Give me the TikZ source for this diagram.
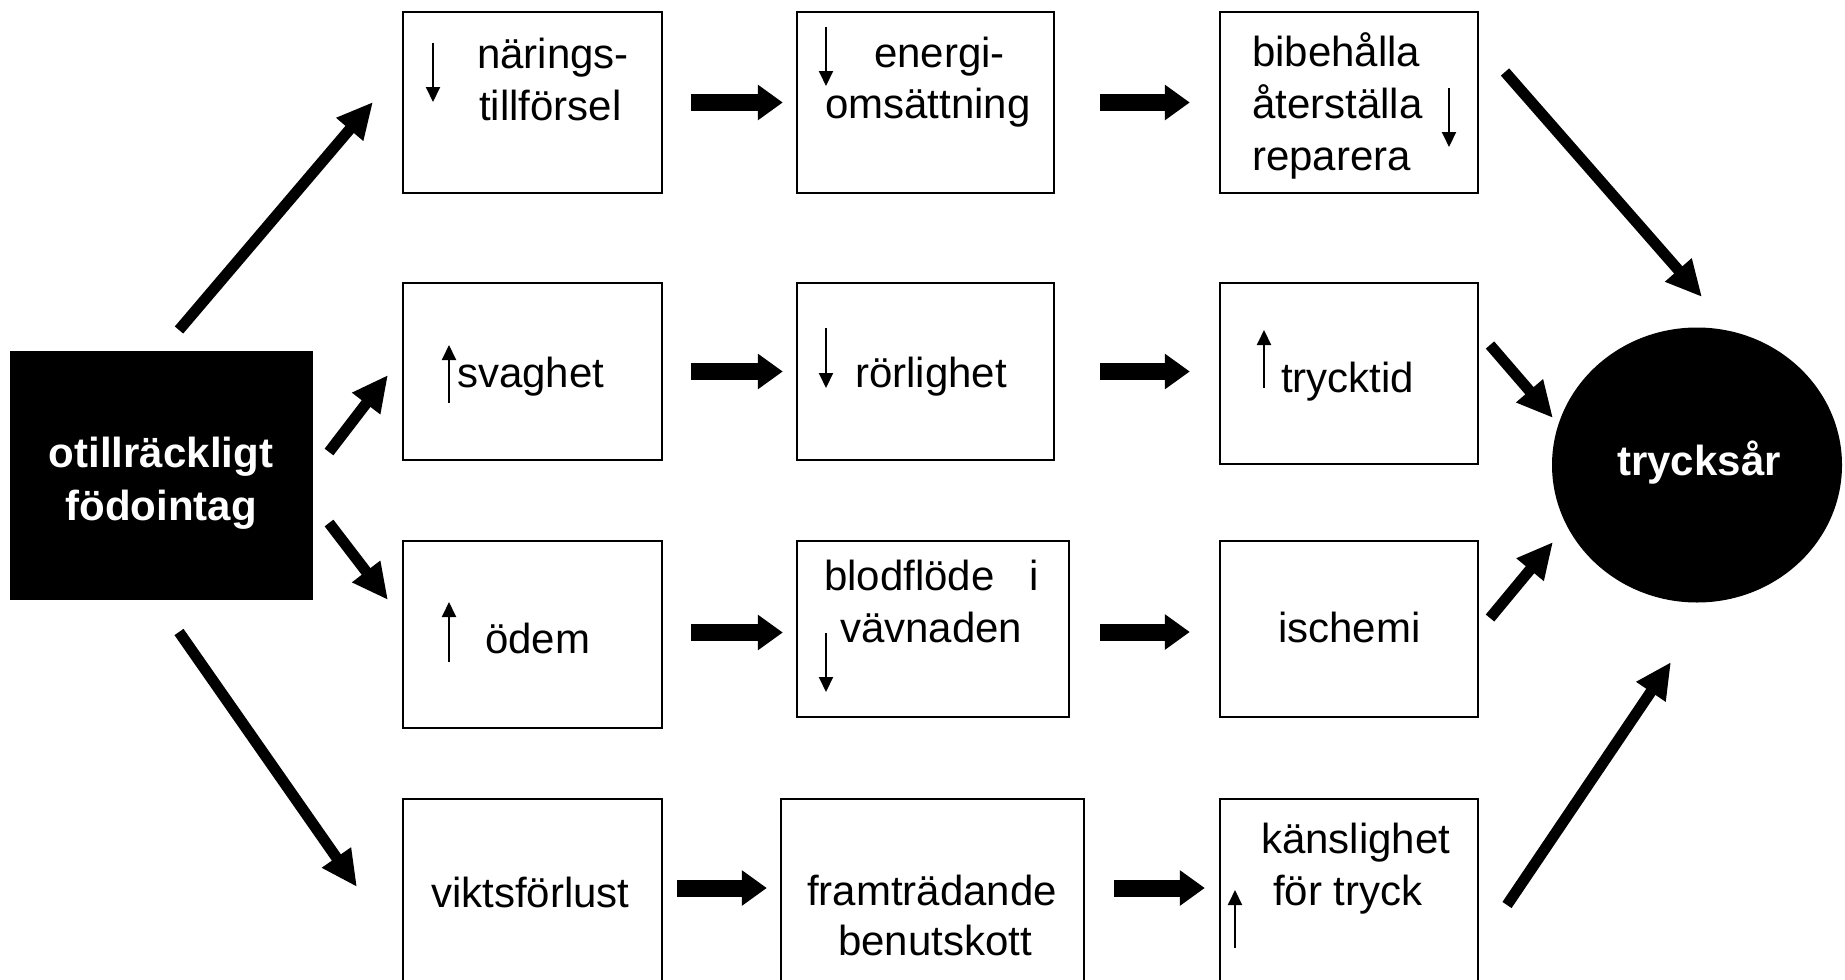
\documentclass[tikz,border=0pt]{standalone}
\usepackage{fontspec}
\setmainfont{Liberation Sans}
\usetikzlibrary{arrows.meta,shapes.geometric,fit}
\begin{document}
\begin{tikzpicture}[x=1pt,y=-1pt,
  box/.style={draw=black, line width=2.4pt, inner sep=0pt},
  txt/.style={inner sep=0pt, anchor=base west, font=\fontsize{42}{52}\selectfont},
  wtxt/.style={inner sep=0pt, anchor=base, text=white, font=\fontsize{42}{52}\selectfont\bfseries},
  fat/.style={line width=17pt, -{Triangle[length=25pt,width=34pt]}},
  diag/.style={line width=11pt, -{Triangle[length=36pt,width=33pt]}},
  thin/.style={line width=2pt, -{Triangle[length=15pt,width=14pt]}},
]
\useasboundingbox (0,0) rectangle (1845,980);
\clip (0,0) rectangle (1845,980);
\fill[white] (0,0) rectangle (1845,980);

% source and target
\node[fill=black, inner sep=0pt, fit={(10,351) (313,600)}] (cause) {};
\node[wtxt] (causeA) at (161,467) {otillräckligt};
\node[wtxt] (causeB) at (161,520) {födointag};
\node[ellipse, fill=black, inner sep=0pt, minimum width=290pt, minimum height=275pt] (sore) at (1697,465) {};
\node[wtxt] (soreT) at (1699,475) {trycksår};

% boxes
\node[box, fit={(403,12) (662,193)}] (b11) {};
\node[box, fit={(797,12) (1054,193)}] (b12) {};
\node[box, fit={(1220,12) (1478,193)}] (b13) {};
\node[box, fit={(403,283) (662,460)}] (b21) {};
\node[box, fit={(797,283) (1054,460)}] (b22) {};
\node[box, fit={(1220,283) (1478,464)}] (b23) {};
\node[box, fit={(403,541) (662,728)}] (b31) {};
\node[box, fit={(797,541) (1069,717)}] (b32) {};
\node[box, fit={(1220,541) (1478,717)}] (b33) {};
\node[box, fit={(403,799) (662,995)}] (b41) {};
\node[box, fit={(781,799) (1084,995)}] (b42) {};
\node[box, fit={(1220,799) (1478,995)}] (b43) {};

% texts
\node[txt] (t11a) at (477,68) {närings-};
\node[txt] (t11b) at (479,120) {tillförsel};
\node[txt] (t12a) at (874,67) {energi-};
\node[txt] (t12b) at (825,118) {omsättning};
\node[txt] (t13a) at (1252,66) {bibehålla};
\node[txt] (t13b) at (1252,118) {återställa};
\node[txt] (t13c) at (1252,170) {reparera};
\node[txt] (t21) at (457,387) {svaghet};
\node[txt] (t22) at (855,387) {rörlighet};
\node[txt] (t23) at (1281,392) {trycktid};
\node[txt] (t31) at (485,653) {ödem};
\node[txt] (t32a) at (824,590) {blodflöde};
\node[txt] (t32i) at (1029,590) {i};
\node[txt] (t32b) at (840,642) {vävnaden};
\node[txt] (t33) at (1278,642) {ischemi};
\node[txt] (t41) at (431,907) {viktsförlust};
\node[txt] (t42a) at (807,905) {framträdande};
\node[txt] (t42b) at (838,955) {benutskott};
\node[txt] (t43a) at (1261,853) {känslighet};
\node[txt] (t43b) at (1273,905) {för tryck};

% small up/down marks
\draw[thin] (433,43) -- (433,102);
\draw[thin] (826,27) -- (826,86);
\draw[thin] (1449,88) -- (1449,147);
\draw[thin] (449,403) -- (449,345);
\draw[thin] (826,328) -- (826,388);
\draw[thin] (1264,388) -- (1264,330);
\draw[thin] (449,662) -- (449,602);
\draw[thin] (826,633) -- (826,692);
\draw[thin] (1235,948) -- (1235,890);

% fat horizontal arrows
\draw[fat, shorten <=28pt, shorten >=13pt] (b11.east) -- (b11.east -| b12.west);
\draw[fat, shorten <=45pt, shorten >=29pt] (b12.east) -- (b12.east -| b13.west);
\draw[fat, shorten <=28pt, shorten >=13pt] (b21.east) -- (b21.east -| b22.west);
\draw[fat, shorten <=45pt, shorten >=29pt] (b22.east) -- (b22.east -| b23.west);
\draw[fat, shorten <=28pt, shorten >=13pt] ([yshift=2pt]b31.east) -- ([yshift=2pt]b31.east -| b32.west);
\draw[fat, shorten <=30pt, shorten >=29pt] ([yshift=-3pt]b32.east) -- ([yshift=-3pt]b32.east -| b33.west);
\draw[fat, shorten <=14pt, shorten >=13pt] ([yshift=9pt]b41.east) -- ([yshift=9pt]b41.east -| b42.west);
\draw[fat, shorten <=29pt, shorten >=14pt] ([yshift=9pt]b42.east) -- ([yshift=9pt]b42.east -| b43.west);

% diagonal arrows
\coordinate (a1s) at (179,330); \coordinate (a1e) at (373,102);
\coordinate (a2s) at (329,452); \coordinate (a2e) at (388,375);
\coordinate (a3s) at (329,523); \coordinate (a3e) at (388,600);
\coordinate (a4s) at (179,632); \coordinate (a4e) at (357,887);
\coordinate (c1s) at (1505,72);  \coordinate (c1e) at (1702,297);
\coordinate (c2s) at (1490,345); \coordinate (c2e) at (1553,418);
\coordinate (c3s) at (1490,618); \coordinate (c3e) at (1553,542);
\coordinate (c4s) at (1507,905); \coordinate (c4e) at (1671,662);
\draw[diag] (a1s) -- (a1e);
\draw[diag] (a2s) -- (a2e);
\draw[diag] (a3s) -- (a3e);
\draw[diag] (a4s) -- (a4e);
\draw[diag] (c1s) -- (c1e);
\draw[diag] (c2s) -- (c2e);
\draw[diag] (c3s) -- (c3e);
\draw[diag] (c4s) -- (c4e);
\end{tikzpicture}
\end{document}
